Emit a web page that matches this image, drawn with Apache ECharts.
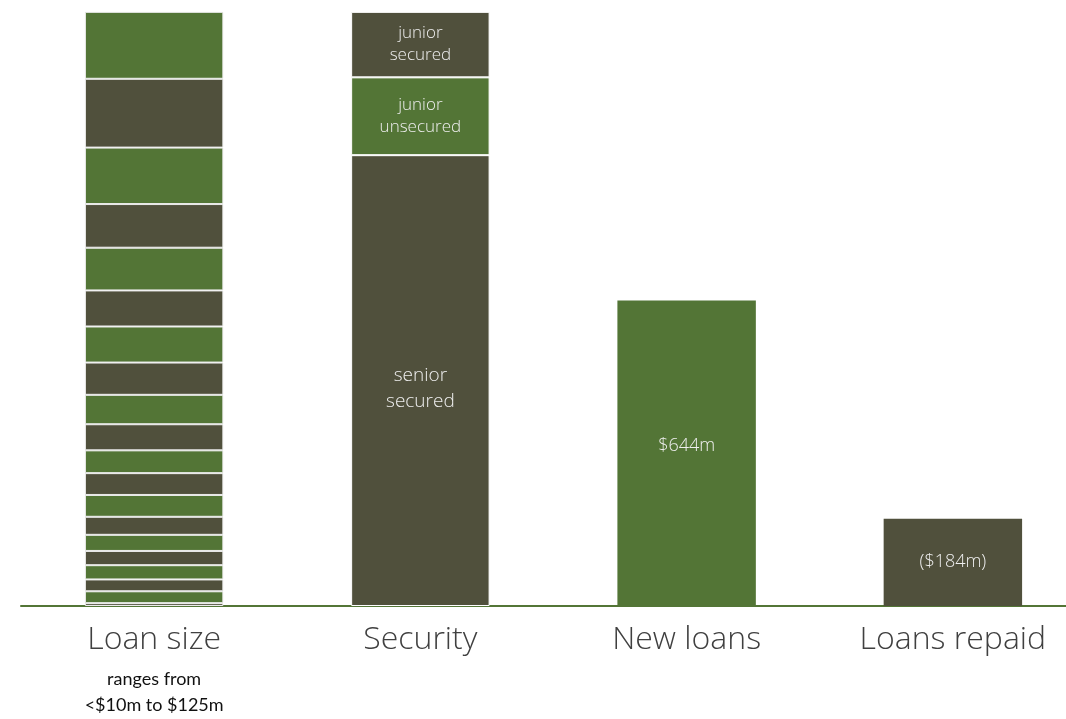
<!DOCTYPE html>
<html>
<head>
<meta charset="utf-8">
<script src="https://cdn.jsdelivr.net/npm/echarts@6/dist/echarts.min.js"></script>
<style>
html,body{margin:0;padding:0;background:#fff;overflow:hidden;width:1066px;height:719px;}
#chart{width:1100px;height:719px;}
</style>
</head>
<body>
<div id="chart"></div>
<script>
// ---- data ----
const categories = ['Loan size', 'Security', 'New loans', 'Loans repaid'];
const loanSizeNote = ['ranges from', '<$10m to $125m'];
// loan size segments, bottom to top ($m)
const loanSizeSegments = [6, 25, 25, 30, 30, 34, 38, 46, 46, 48, 55, 62, 68, 76, 76, 90, 92, 119, 145, 141];
const securityNames = ['senior\nsecured', 'junior\nunsecured', 'junior\nsecured'];
const securityValues = [950, 164, 138];
const newLoans = 644;
const loansRepaid = 184;
const newLoansLabel = '$644m';
const loansRepaidLabel = '($184m)';

const GREEN = '#537536';
const DARK = '#50503C';
const FONT = '"Open Sans", Lato, sans-serif';
const AXFONT = '"Open Sans", Lato, sans-serif';

const series = [];
const n = loanSizeSegments.length;
loanSizeSegments.forEach((v, i) => {
  const fromTop = n - 1 - i;
  series.push({
    type: 'bar', stack: 'a', barWidth: '52%',
    data: [v, '-', '-', '-'],
    itemStyle: { color: fromTop % 2 === 0 ? GREEN : DARK, borderColor: '#ececec', borderWidth: 1 },
    silent: true
  });
});
const secColors = [DARK, GREEN, DARK];
securityValues.forEach((v, i) => {
  series.push({
    type: 'bar', stack: 'a', barWidth: '52%',
    data: ['-', v, '-', '-'],
    itemStyle: { color: secColors[i], borderColor: '#fff', borderWidth: 1 },
    label: {
      show: true, position: 'inside', formatter: securityNames[i],
      color: '#eeeeee', fontFamily: FONT, fontWeight: 300, fontSize: i === 0 ? 19 : 17,
      lineHeight: i === 0 ? 26 : 22,
      offset: [0, i === 0 ? 8 : 0]
    }
  });
});
series.push({
  type: 'bar', stack: 'a', barWidth: '52%',
  data: ['-', '-',
    { value: newLoans, itemStyle: { color: GREEN }, label: { formatter: newLoansLabel, offset: [0, -7] } },
    { value: loansRepaid, itemStyle: { color: DARK }, label: { formatter: loansRepaidLabel } }
  ],
  label: { show: true, position: 'inside', color: '#eeeeee', fontFamily: FONT, fontWeight: 300, fontSize: 18 }
});

const chart = echarts.init(document.getElementById('chart'));
chart.setOption({
  animation: false,
  grid: { left: 21, width: 1065, top: 0, bottom: 113 },
  xAxis: {
    type: 'category', data: categories,
    axisLine: { lineStyle: { color: GREEN, width: 2 } },
    axisTick: { show: false },
    axisLabel: {
      margin: 8, interval: 0,
      formatter: (val, idx) => idx === 0
        ? '{a|' + val + '}\n' + loanSizeNote.map(s => '{b|' + s + '}').join('\n')
        : '{a|' + val + '}',
      rich: {
        a: { fontFamily: AXFONT, fontWeight: 300, fontSize: 32, color: '#404040', lineHeight: 52 },
        b: { fontFamily: 'Lato, sans-serif', fontSize: 18, color: '#111', lineHeight: 26 }
      }
    }
  },
  yAxis: { type: 'value', min: 0, max: 1277, show: false, splitLine: { show: false } },
  series: series
});
</script>
</body>
</html>
